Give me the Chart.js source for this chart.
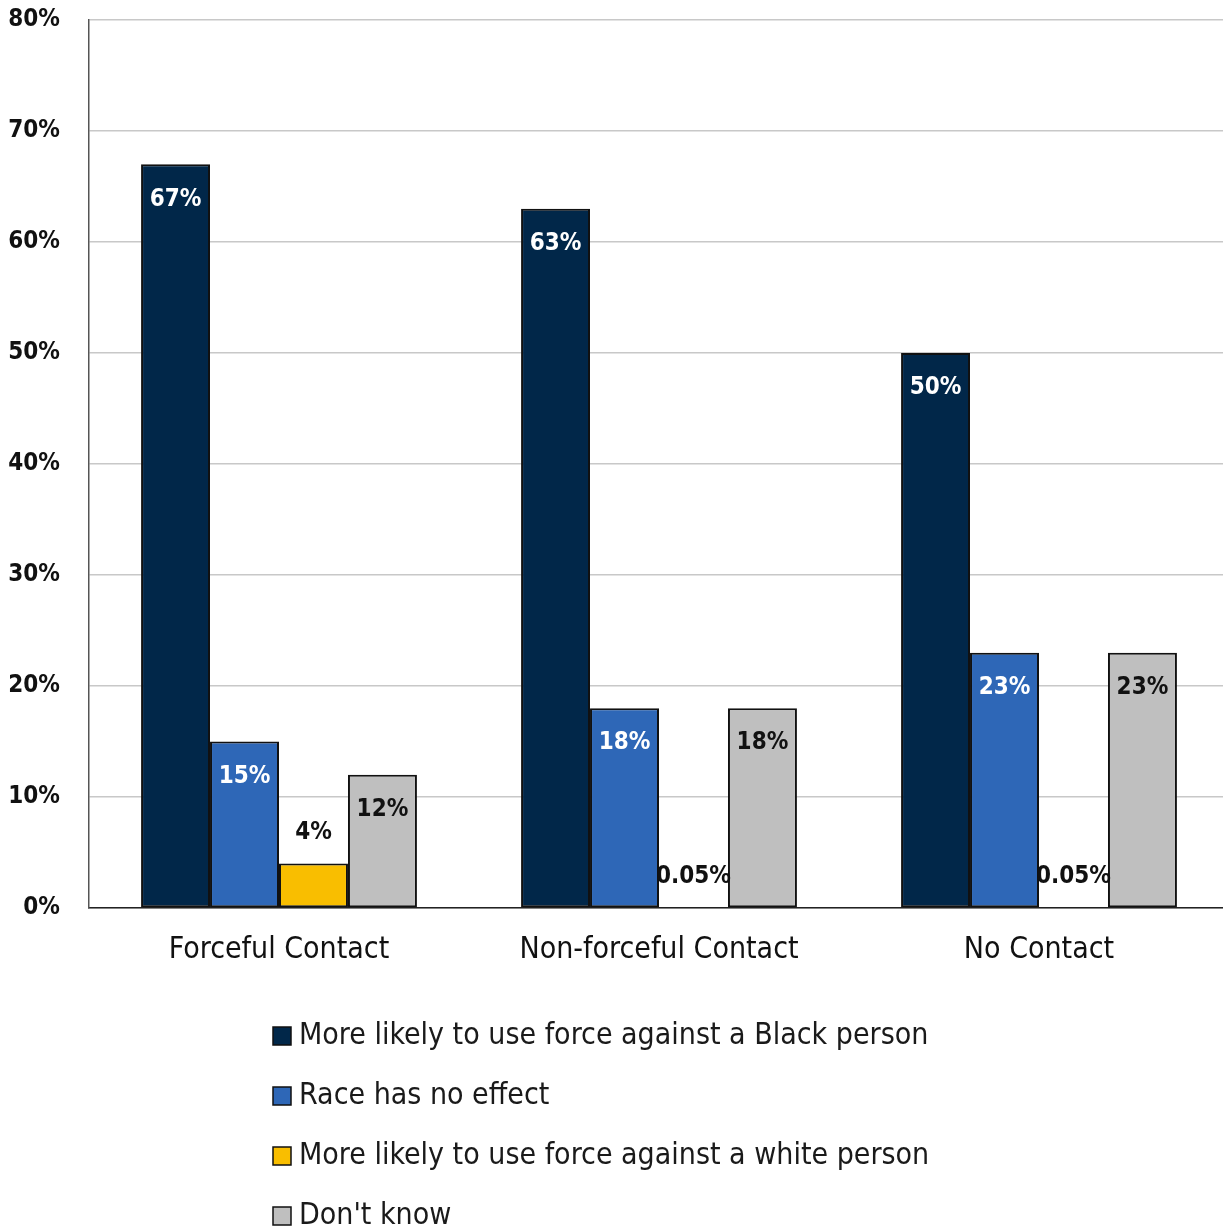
<!DOCTYPE html>
<html>
<head>
<meta charset="utf-8">
<script src="https://cdn.jsdelivr.net/npm/chart.js@4.4.1/dist/chart.umd.min.js"></script>
<style>
  html, body { margin: 0; padding: 0; background: #fff; overflow: hidden; }
  #wrap { position: relative; width: 1229px; height: 1230px; }
</style>
</head>
<body>
<div id="wrap"><canvas id="chart" width="1229" height="1230"></canvas></div>
<script>
const categories = ["Forceful Contact", "Non-forceful Contact", "No Contact"];
const seriesNames = [
  "More likely to use force against a Black person",
  "Race has no effect",
  "More likely to use force against a white person",
  "Don't know",
];
const blackPerson = [67, 63, 50];
const noEffect = [15, 18, 23];
const whitePerson = [4, 0.05, 0.05];
const dontKnow = [12, 18, 23];
const yTicks = [0, 10, 20, 30, 40, 50, 60, 70, 80];

const colors = ["#012749", "#2e67b7", "#f9be00", "#bfbfbf"];
const labelColors = ["#ffffff", "#ffffff", "#111111", "#111111"];
const FONT = "'DejaVu Sans Condensed', 'Liberation Sans Narrow', Roboto, sans-serif";

// value labels: inside the top of tall bars, above short ones
const valueLabels = {
  id: "valueLabels",
  afterDatasetsDraw(chart) {
    const ctx = chart.ctx;
    ctx.save();
    ctx.font = "bold 24px " + FONT;
    ctx.textAlign = "center";
    ctx.textBaseline = "middle";
    chart.data.datasets.forEach((ds, i) => {
      chart.getDatasetMeta(i).data.forEach((bar, j) => {
        const v = ds.data[j];
        const h = bar.base - bar.y;
        const txt = v + "%";
        if (h > 50) {
          ctx.fillStyle = labelColors[i];
          ctx.fillText(txt, bar.x, bar.y + 35);
        } else {
          ctx.fillStyle = "#111";
          ctx.fillText(txt, bar.x, bar.y - 31);
        }
      });
    });
    ctx.restore();
  },
};

// vertical legend under the plot
const stackedLegend = {
  id: "stackedLegend",
  afterDraw(chart) {
    const ctx = chart.ctx;
    ctx.save();
    ctx.font = "30px " + FONT;
    ctx.textBaseline = "middle";
    ctx.textAlign = "left";
    chart.data.datasets.forEach((ds, i) => {
      const y = 1036 + i * 60;
      ctx.fillStyle = ds.backgroundColor;
      ctx.fillRect(273, y - 9, 18, 18);
      ctx.strokeStyle = "#111";
      ctx.lineWidth = 1.5;
      ctx.strokeRect(273, y - 9, 18, 18);
      ctx.fillStyle = "#1a1a1a";
      ctx.fillText(ds.label, 299, y);
    });
    ctx.restore();
  },
};

const allSeries = [blackPerson, noEffect, whitePerson, dontKnow];

new Chart(document.getElementById("chart"), {
  type: "bar",
  data: {
    labels: categories,
    datasets: allSeries.map((d, i) => ({
      label: seriesNames[i],
      data: d,
      backgroundColor: colors[i],
      borderColor: "#111",
      borderWidth: 2,
      borderSkipped: false,
      categoryPercentage: 0.726,
      barPercentage: 1,
    })),
  },
  options: {
    responsive: false,
    animation: false,
    layout: { padding: { top: 20, right: 0, left: 0, bottom: 242 } },
    plugins: {
      legend: { display: false },
      tooltip: { enabled: false },
    },
    scales: {
      x: {
        grid: { display: false },
        border: { color: "#222", width: 1.5 },
        ticks: {
          color: "#111",
          font: { family: FONT, size: 30 },
          padding: 16,
        },
        afterFit(scale) { scale.height = 80; },
      },
      y: {
        min: 0,
        max: 80,
        afterBuildTicks(scale) {
          scale.ticks = yTicks.map((v) => ({ value: v }));
        },
        grid: {
          color: "#c8c8c8",
          lineWidth: 1.5,
          drawTicks: true,
          tickLength: 29,
          tickColor: "rgba(0,0,0,0)",
        },
        border: { color: "#555", width: 1.5 },
        ticks: {
          color: "#111",
          font: { family: FONT, size: 24, weight: "bold" },
          padding: 0,
          callback: (v) => v + "%",
        },
        afterFit(scale) { scale.width = 89; },
      },
    },
  },
  plugins: [valueLabels, stackedLegend],
});
</script>
</body>
</html>
